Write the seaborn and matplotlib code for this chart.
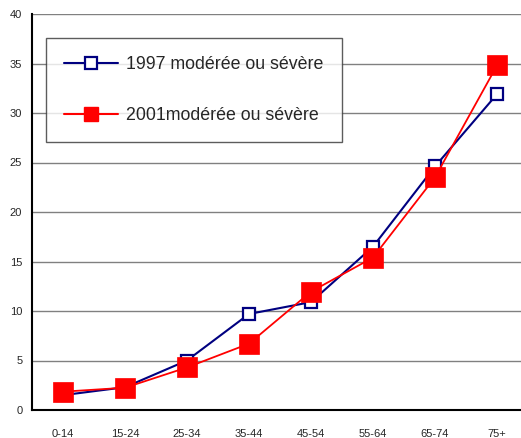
import matplotlib
matplotlib.use("Agg")
import matplotlib.pyplot as plt
import seaborn as sns
import pandas as pd
from matplotlib.lines import Line2D

categories = ["0-14", "15-24", "25-34", "35-44", "45-54", "55-64", "65-74", "75+"]
values_1997 = [1.5, 2.3, 5.0, 9.7, 10.9, 16.5, 24.6, 31.9]
values_2001 = [1.85, 2.25, 4.3, 6.7, 11.95, 15.4, 23.5, 34.8]
label_1997 = "1997 modérée ou sévère"
label_2001 = "2001modérée ou sévère"
y_ticks = [0, 5, 10, 15, 20, 25, 30, 35, 40]

sns.set_theme(style="white")
plt.rcParams['font.family'] = ['Liberation Sans', 'DejaVu Sans']

W, H = 521, 438
fig = plt.figure(figsize=(W / 100, H / 100), dpi=100)
left_px, right_px, top_px, bot_px = 32, 528, 14, 410
ax = fig.add_axes([left_px / W, 1 - bot_px / H, (right_px - left_px) / W, (bot_px - top_px) / H])

df = pd.DataFrame({"x": list(range(len(categories))), "v97": values_1997, "v01": values_2001})

sns.lineplot(data=df, x="x", y="v97", ax=ax, color="#000080", linewidth=1.5,
             marker="s", markersize=9, markerfacecolor="white",
             markeredgecolor="#000080", markeredgewidth=1.6, zorder=3)
sns.lineplot(data=df, x="x", y="v01", ax=ax, color="#ff0000", linewidth=1.3,
             marker="s", markersize=15, markerfacecolor="#ff0000",
             markeredgecolor="#ff0000", markeredgewidth=0.5, zorder=4)

ax.set_xlim(-0.5, len(categories) - 0.5)
ax.set_ylim(0, 40)
ax.set_yticks(y_ticks)
ax.set_yticklabels([str(t) for t in y_ticks], fontsize=8)
ax.set_xticks(range(len(categories)))
ax.set_xticklabels(categories, fontsize=8)
ax.set_xticks([i - 0.5 for i in range(len(categories) + 1)], minor=True)
ax.tick_params(axis="x", which="major", length=0, pad=14)
ax.tick_params(axis="x", which="minor", length=4, width=1, color="black", direction="out")
ax.tick_params(axis="y", which="major", length=4, width=1, color="black", direction="out", pad=3)
ax.set_xlabel("")
ax.set_ylabel("")

ax.yaxis.grid(True, color="#808080", linewidth=1)
ax.set_axisbelow(True)
for s in ["top", "right"]:
    ax.spines[s].set_visible(False)
for s in ["left", "bottom"]:
    ax.spines[s].set_color("black")
    ax.spines[s].set_linewidth(1.5)

handles = [
    Line2D([], [], color="#000080", linewidth=1.5, marker="s", markersize=9,
           markerfacecolor="white", markeredgecolor="#000080", markeredgewidth=1.6),
    Line2D([], [], color="#ff0000", linewidth=1.5, marker="s", markersize=10,
           markerfacecolor="#ff0000", markeredgecolor="#ff0000"),
]
leg = ax.legend(handles, [label_1997, label_2001], loc="upper left",
                bbox_to_anchor=(46 / W, 1 - 38 / H), bbox_transform=fig.transFigure,
                fontsize=12.8, frameon=True, fancybox=False, borderpad=1.03,
                labelspacing=1.9, handlelength=3.0, handletextpad=0.47,
                borderaxespad=0)
leg.get_frame().set_edgecolor("#333333")
leg.get_frame().set_linewidth(1.0)
leg.get_frame().set_facecolor("white")

fig.savefig("out.png", dpi=100)
